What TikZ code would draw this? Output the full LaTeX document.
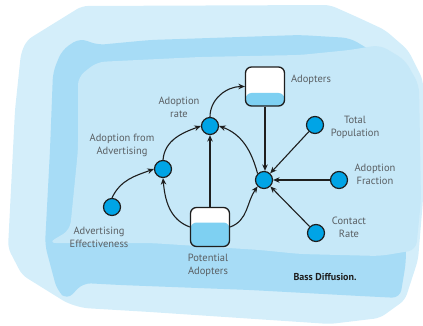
\documentclass[tikz,border=0pt]{standalone}
\usepackage{fontspec}
\setmainfont{PT Sans}
\usetikzlibrary{arrows.meta}
\definecolor{bgout}{HTML}{D4EEFA}
\definecolor{bgband}{HTML}{A7DCF6}
\definecolor{bgin}{HTML}{C6E8F8}
\definecolor{nodeblue}{HTML}{00A4E6}
\definecolor{liquid}{HTML}{7ED0F2}
\definecolor{ink}{HTML}{1E1E1E}
\definecolor{txt}{HTML}{5A5F63}
\tikzset{
  aux/.style={circle,draw=ink,line width=1.2pt,fill=nodeblue,minimum size=17pt,inner sep=0pt},
  stock/.style={draw=ink,line width=1.3pt,rounded corners=6pt,fill=white,minimum width=39pt,minimum height=39pt,inner sep=0pt,
    path picture={\fill[liquid] (path picture bounding box.south west) rectangle ([yshift=#1]path picture bounding box.south east);}},
  lbl/.style={font=\fontsize{10.5}{13}\selectfont,text=txt,align=center,inner sep=0pt},
  link/.style={draw=ink,line width=1.1pt,-{Stealth[length=6.5pt,width=5.5pt]}},
}
\begin{document}
\begin{tikzpicture}[x=1pt,y=-1pt]
\useasboundingbox (0,0) rectangle (423,326);
% background watercolour
\fill[bgout,rounded corners=6pt] (82,6) -- (330,5) -- (357,17) -- (385,30) -- (408,50) -- (423,80) -- (423,200) -- (418,260) -- (405,300) -- (380,318) -- (330,324) -- (150,312) -- (83,308) -- (67,303) -- (22,275) -- (8,248) -- (15,110) -- (21,53) -- (27,40) -- cycle;
\fill[bgband,rounded corners=8pt] (53,72) -- (62,50) -- (80,38) -- (97,45) -- (150,40) -- (300,35) -- (350,38) -- (370,50) -- (400,70) -- (405,200) -- (406,262) -- (400,298) -- (360,296) -- (250,290) -- (120,285) -- (83,283) -- (67,300) -- (57,290) -- (45,245) -- (50,150) -- cycle;
\fill[bgin,rounded corners=8pt] (78,77) -- (97,62) -- (200,57) -- (300,55) -- (350,50) -- (380,45) -- (405,60) -- (419,85) -- (421,200) -- (416,250) -- (380,256) -- (300,254) -- (260,250) -- (150,243) -- (48,243) -- (70,230) -- (78,150) -- cycle;
% stocks
\node[stock=13pt] (adopters) at (265,86.5) {};
\node[stock=24pt] (potential) at (210,227) {};
% auxiliaries
\node[aux] (rate) at (210,126) {};
\node[aux] (advert) at (163,169) {};
\node[aux] (effect) at (112,207) {};
\node[aux] (hub) at (264,180) {};
\node[aux] (total) at (315,125) {};
\node[aux] (fraction) at (339,180) {};
\node[aux] (contact) at (316,233) {};
% labels
\node[lbl] (ladopters) at (311,80) {Adopters};
\node[lbl] (lpotential) at (208,265) {Potential\\Adopters};
\node[lbl] (lrate) at (179,107) {Adoption\\rate};
\node[lbl] (ladvert) at (122,145.5) {Adoption from\\Advertising};
\node[lbl] (leffect) at (99,237.5) {Advertising\\Effectiveness};
\node[lbl] (ltotal) at (355,127) {Total\\Population};
\node[lbl] (lfraction) at (375,174) {Adoption\\Fraction};
\node[lbl] (lcontact) at (349,227) {Contact\\Rate};
\node[font=\bfseries\fontsize{10}{12}\selectfont,text=ink,inner sep=0pt] (title) at (325,277) {Bass Diffusion.};
% connectors
\draw[link] (rate.north) to[out=90,in=180] (adopters.west);
\draw[link] (advert.north) to[out=85,in=200] (rate.west);
\draw[link] (hub.north west) to[out=105,in=-20] (rate.east);
\draw[link] (potential.north) -- (rate.south);
\draw[link] (potential.west) to[out=160,in=-85] (advert.south);
\draw[link] (potential.east) to[out=20,in=-125] (hub.south west);
\draw[link] (adopters.south) -- (adopters.south |- hub.north);
\draw[link] (total) -- (hub);
\draw[link] (fraction) -- (hub);
\draw[link] (contact) -- (hub);
\draw[link] (effect.north) to[out=65,in=200] (advert.west);
\end{tikzpicture}
\end{document}
